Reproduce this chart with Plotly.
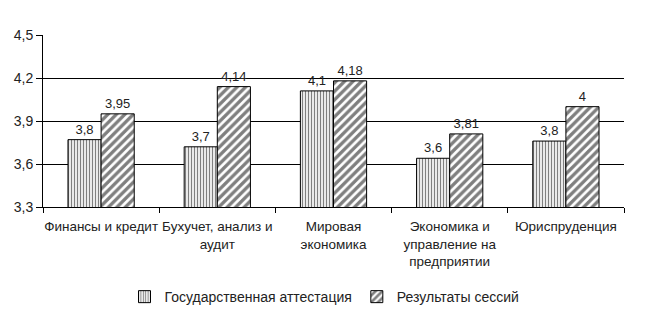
import plotly.graph_objects as go

categories = ["Финансы и кредит", "Бухучет, анализ и<br>аудит", "Мировая<br>экономика",
              "Экономика и<br>управление на<br>предприятии", "Юриспруденция"]
gos_values = [3.77, 3.72, 4.11, 3.64, 3.76]
gos_labels = ["3,8", "3,7", "4,1", "3,6", "3,8"]
sess_values = [3.95, 4.14, 4.18, 3.81, 4.0]
sess_labels = ["3,95", "4,14", "4,18", "3,81", "4"]
series_names = ["Государственная аттестация", "Результаты сессий"]
y_ticks = [3.3, 3.6, 3.9, 4.2, 4.5]
y_tick_labels = ["3,3", "3,6", "3,9", "4,2", "4,5"]

font = "Liberation Sans, Arial, sans-serif"

fig = go.Figure()
fig.add_trace(go.Bar(
    x=categories, y=gos_values, name=series_names[0],
    text=gos_labels, textposition="outside", cliponaxis=False,
    textfont=dict(size=13, color="#222"),
    marker=dict(color="white", line=dict(color="black", width=1),
                pattern=dict(shape="|", fgcolor="black", bgcolor="white", size=3, solidity=0.45)),
))
fig.add_trace(go.Bar(
    x=categories, y=sess_values, name=series_names[1],
    text=sess_labels, textposition="outside", cliponaxis=False,
    textfont=dict(size=13, color="#222"),
    marker=dict(color="white", line=dict(color="black", width=1),
                pattern=dict(shape="/", fgcolor="black", bgcolor="white", size=6, solidity=0.55)),
))

fig.update_layout(
    width=649, height=314,
    margin=dict(l=43, r=25, t=35, b=107),
    paper_bgcolor="white", plot_bgcolor="white",
    barmode="group", bargap=0.43, bargroupgap=0,
    font=dict(family=font, size=13, color="#222"),
    showlegend=True,
    legend=dict(orientation="h", x=0.5, xanchor="center", xref="container",
                y=0.054, yanchor="middle", yref="container",
                font=dict(size=14), itemwidth=30, tracegroupgap=0),
    xaxis=dict(showline=True, linecolor="black", linewidth=1, ticks="outside",
               tickson="boundaries", ticklen=5, tickcolor="black", showgrid=False,
               tickfont=dict(size=13.5), ticklabelstandoff=7, tickangle=0,
               automargin=False),
    yaxis=dict(range=[3.3, 4.5], tickvals=y_ticks, ticktext=y_tick_labels,
               showline=True, linecolor="black", linewidth=1, ticks="outside",
               ticklen=6, tickcolor="black", showgrid=True, gridcolor="black",
               gridwidth=1, zeroline=False, tickfont=dict(size=14), automargin=False),
)

fig.write_html("out.html")
